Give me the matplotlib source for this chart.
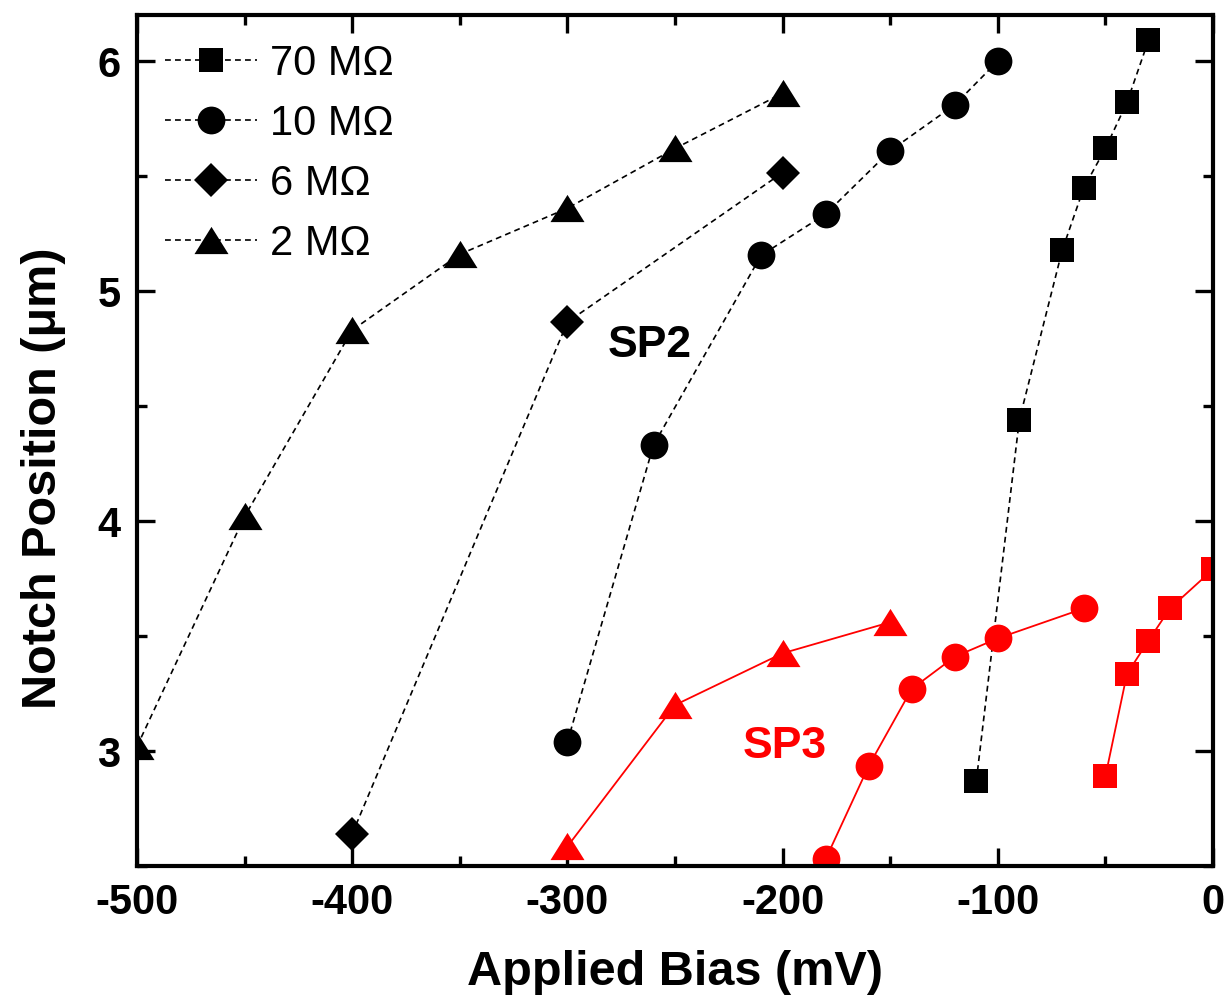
import matplotlib
matplotlib.use('Agg')
import matplotlib.pyplot as plt
from matplotlib.ticker import MultipleLocator

plt.rcParams['font.family'] = ['Liberation Sans', 'DejaVu Sans']
plt.rcParams['axes.unicode_minus'] = False

# SP2 series (black, dashed)
bias_70 = [-110, -90, -70, -60, -50, -40, -30]
pos_70 = [2.87, 4.44, 5.18, 5.45, 5.62, 5.82, 6.09]

bias_10 = [-300, -260, -210, -180, -150, -120, -100]
pos_10 = [3.04, 4.33, 5.155, 5.335, 5.61, 5.81, 6.00]

bias_6 = [-400, -300, -200]
pos_6 = [2.64, 4.865, 5.515]

bias_2 = [-500, -450, -400, -350, -300, -250, -200]
pos_2 = [3.02, 4.02, 4.83, 5.16, 5.36, 5.62, 5.86]

# SP3 series (red, solid)
sp3_bias_sq = [-50, -40, -30, -20, 0]
sp3_pos_sq = [2.89, 3.335, 3.48, 3.62, 3.79]

sp3_bias_circ = [-180, -160, -140, -120, -100, -60]
sp3_pos_circ = [2.53, 2.935, 3.27, 3.41, 3.49, 3.62]

sp3_bias_tri = [-300, -250, -200, -150]
sp3_pos_tri = [2.585, 3.2, 3.425, 3.56]

labels = ['70 M\u03a9', '10 M\u03a9', '6 M\u03a9', '2 M\u03a9']

# triangle a bit wider than tall, like the original
tri = [(0, 0.8), (-1, -0.8), (1, -0.8)]

fig = plt.figure(figsize=(12.3, 10.05), dpi=100)
ax = fig.add_axes([0.1114, 0.1383, 0.8748, 0.8467])

dash_kw = dict(color='black', lw=1.2, ls=(0, (3.5, 2.5)), mfc='black', mec='black', mew=0)
ax.plot(bias_70, pos_70, marker='s', ms=17.5, label=labels[0], **dash_kw)
ax.plot(bias_10, pos_10, marker='o', ms=20, label=labels[1], **dash_kw)
ax.plot(bias_6, pos_6, marker='D', ms=17.5, label=labels[2], **dash_kw)
ax.plot(bias_2, pos_2, marker=tri, ms=24.5, label=labels[3], **dash_kw)

red_kw = dict(color='red', lw=1.3, ls='-', mfc='red', mec='red', mew=0)
ax.plot(sp3_bias_sq, sp3_pos_sq, marker='s', ms=17.5, **red_kw)
ax.plot(sp3_bias_circ, sp3_pos_circ, marker='o', ms=20, **red_kw)
ax.plot(sp3_bias_tri, sp3_pos_tri, marker=tri, ms=24.5, **red_kw)

ax.text(-262, 4.765, 'SP2', fontsize=32, fontweight='bold', color='black', ha='center', va='center')
ax.text(-199, 3.02, 'SP3', fontsize=32, fontweight='bold', color='red', ha='center', va='center')

ax.set_xlim(-500, 0)
ax.set_ylim(2.5, 6.2)
ax.xaxis.set_major_locator(MultipleLocator(100))
ax.xaxis.set_minor_locator(MultipleLocator(50))
ax.yaxis.set_major_locator(MultipleLocator(1))
ax.yaxis.set_minor_locator(MultipleLocator(0.5))

for sp in ax.spines.values():
    sp.set_linewidth(3)
ax.tick_params(which='both', direction='in', top=True, right=True, width=2.4)
ax.tick_params(which='major', length=13, labelsize=30, pad=12)
ax.tick_params(which='minor', length=7)
for lab in ax.get_xticklabels() + ax.get_yticklabels():
    lab.set_fontweight('bold')

ax.set_xlabel('Applied Bias (mV)', fontsize=35, fontweight='bold', labelpad=20)
ax.set_ylabel('Notch Position (\u03bcm)', fontsize=35, fontweight='bold')
ax.yaxis.set_label_coords(-0.066, 0.456)

ax.legend(loc='upper left', bbox_to_anchor=(0.026, 0.966), frameon=False,
          fontsize=30, handlelength=2.2, handletextpad=0.33, labelspacing=0.48,
          borderpad=0, borderaxespad=0)

fig.savefig('out.png', dpi=100)
